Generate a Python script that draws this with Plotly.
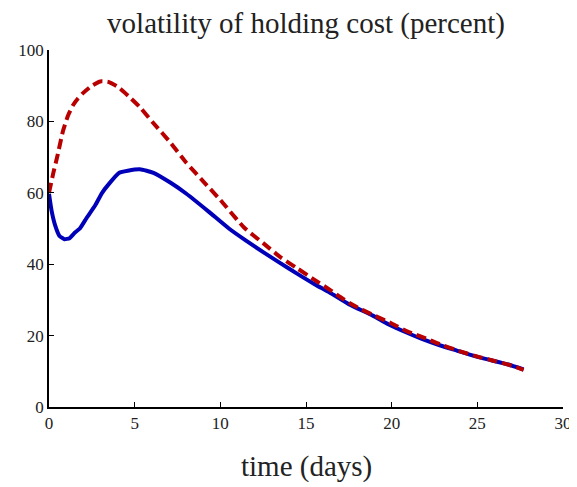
import plotly.graph_objects as go

# Blue solid series
t_blue = [0, 0.15, 0.35, 0.6, 0.9, 1.2, 1.5, 1.8, 2.2, 2.7, 3.1, 3.5, 4.1, 4.6,
          5.3, 6.1, 7.1, 8.0, 9.3, 10.5, 11.5, 12.5, 13.5, 14.5, 15.5, 16.4,
          17.5, 18.9, 19.8, 20.9, 21.8, 22.8, 23.8, 24.8, 25.8, 26.8, 27.7]
v_blue = [59.7, 55.0, 51.0, 48.0, 47.0, 47.3, 48.8, 50.0, 53.0, 56.5, 60.0, 62.5,
          65.6, 66.2, 66.6, 65.6, 62.8, 59.8, 54.8, 50.0, 46.6, 43.4, 40.3, 37.3,
          34.4, 32.0, 28.8, 25.6, 23.2, 20.8, 19.0, 17.3, 15.8, 14.3, 13.1, 11.9, 10.5]

# Red dashed series
t_red = [0, 0.25, 0.5, 0.8, 1.1, 1.4, 1.7, 2.0, 2.5, 3.0, 3.5, 4.1, 4.7, 5.3,
         6.1, 7.1, 8.0, 9.0, 10.0, 11.4, 12.5, 13.5, 14.5, 15.5, 16.4, 17.0,
         17.8, 18.9, 20.0, 20.9, 22.0, 22.8, 24.0, 24.8, 26.0, 27.0, 27.7]
v_red = [60.0, 65.5, 70.5, 77.0, 81.5, 84.5, 86.5, 88.0, 90.0, 91.2, 91.0, 89.4,
         86.8, 84.0, 79.5, 74.0, 68.5, 63.2, 58.0, 50.2, 45.9, 42.0, 38.8, 35.6,
         32.8, 30.8, 28.4, 25.8, 23.4, 21.2, 19.2, 17.6, 15.6, 14.4, 12.9, 11.6, 10.4]

x_ticks = [0, 5, 10, 15, 20, 25, 30]
y_ticks = [0, 20, 40, 60, 80, 100]

FONT = "Liberation Serif"
TXT = "#222222"

fig = go.Figure()
fig.add_trace(go.Scatter(x=t_blue, y=v_blue, mode="lines",
                         line=dict(color="#0000B8", width=4, shape="spline", smoothing=0.5),
                         showlegend=False))
fig.add_trace(go.Scatter(x=t_red, y=v_red, mode="lines",
                         line=dict(color="#B80000", width=4, dash="10px,5px",
                                   shape="spline", smoothing=0.5),
                         showlegend=False))

# page body has an 8px margin, so the figure is sized to fit the remaining window
fig.update_layout(
    width=569, height=479,
    margin=dict(l=41, r=14, t=42, b=80, autoexpand=False),
    paper_bgcolor="white", plot_bgcolor="white",
    font=dict(family=FONT, color=TXT, size=17),
    title=dict(text="volatility of holding cost (percent)", x=0.5, xanchor="center",
               xref="paper", yref="container",
               y=0.9697, yanchor="middle", font=dict(family=FONT, size=29, color=TXT)),
    xaxis=dict(range=[0, 30], tickvals=x_ticks, ticks="inside", ticklen=5,
               tickcolor="black", tickwidth=1.2, showline=True, linecolor="black",
               linewidth=1.5, showgrid=False, zeroline=False, tickfont=dict(size=17),
               automargin=False),
    yaxis=dict(range=[0, 100], tickvals=y_ticks, ticks="inside", ticklen=5,
               tickcolor="black", tickwidth=1.2, showline=True, linecolor="black",
               linewidth=1.5, showgrid=False, zeroline=False, tickfont=dict(size=17),
               automargin=False),
    annotations=[dict(text="time (days)", xref="paper", yref="paper", x=0.5, y=0,
                      yshift=-59, xanchor="center", yanchor="middle", showarrow=False,
                      font=dict(family=FONT, size=29, color=TXT))],
)

fig.write_html("out.html")
